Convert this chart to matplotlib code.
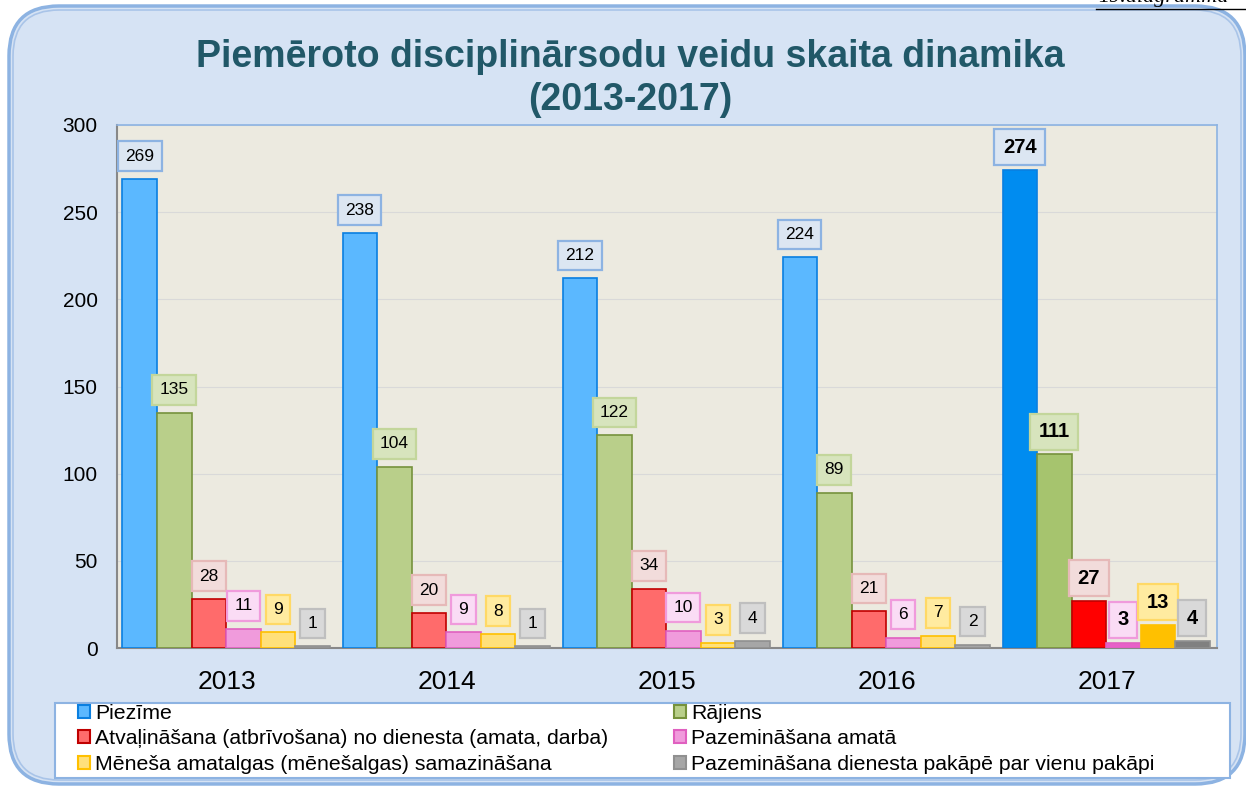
import matplotlib
matplotlib.use("Agg")
import matplotlib.pyplot as plt
from matplotlib.patches import FancyBboxPatch, Patch, Rectangle
from matplotlib.lines import Line2D
import numpy as np

plt.rcParams['font.family'] = ['Liberation Sans', 'DejaVu Sans']

years = ["2013", "2014", "2015", "2016", "2017"]
series_names = [
    "Piezīme",
    "Rājiens",
    "Atvaļināšana (atbrīvošana) no dienesta (amata, darba)",
    "Pazemināšana amatā",
    "Mēneša amatalgas (mēnešalgas) samazināšana",
    "Pazemināšana dienesta pakāpē par vienu pakāpi",
]
piezime = [269, 238, 212, 224, 274]
rajiens = [135, 104, 122, 89, 111]
atvalinasana = [28, 20, 34, 21, 27]
pazeminasana_amata = [11, 9, 10, 6, 3]
amatalgas = [9, 8, 3, 7, 13]
pazeminasana_pakape = [1, 1, 4, 2, 4]
series = [piezime, rajiens, atvalinasana, pazeminasana_amata, amatalgas, pazeminasana_pakape]

fills = ["#5BB8FF", "#B9CF8A", "#FF6B6B", "#F09BDC", "#FFE07A", "#A6A6A6"]
fills_last = ["#008CF0", "#A6C46E", "#FF0000", "#E860C8", "#FFC000", "#808080"]
edges = ["#0A7FE0", "#76923C", "#C00000", "#E060C0", "#FFC000", "#909090"]
lab_fc = ["#DCE6F2", "#D7E4BD", "#F2DCDB", "#FADCF5", "#FFEBA0", "#D9D9D9"]
lab_ec = ["#8DB3E2", "#C3D69B", "#E6B9B8", "#F09BDC", "#FFD966", "#BFBFBF"]

W, H = 1246, 794
fig = plt.figure(figsize=(W / 100, H / 100), dpi=100)
fig.patch.set_facecolor("white")

# outer rounded frame
frame = FancyBboxPatch((9 / W, 10 / H), (1236 / W), (778 / H),
                       boxstyle="round,pad=0,rounding_size=0.04",
                       transform=fig.transFigure, facecolor="#D6E3F4",
                       edgecolor="#8DB3E2", lw=2.5, mutation_aspect=W / H, zorder=-10)
fig.patches.append(frame)
frame2 = FancyBboxPatch((13 / W, 14 / H), (1228 / W), (770 / H),
                        boxstyle="round,pad=0,rounding_size=0.037",
                        transform=fig.transFigure, facecolor="none",
                        edgecolor="#A9C4E8", lw=1.2, mutation_aspect=W / H, zorder=-9)
fig.patches.append(frame2)

# top right caption (clipped in the source as well)
fig.text(1098 / W, 1 - 7 / H, "19.diagramma", fontsize=16, style="italic",
         family="Liberation Serif", ha="left", va="bottom", color="black")
fig.add_artist(Line2D([1096 / W, 1.0], [1 - 9 / H, 1 - 9 / H], transform=fig.transFigure,
                      color="black", lw=1))

ax = fig.add_axes([117 / W, 1 - 648 / H, 1100 / W, 523 / H])
ax.set_facecolor("#ECEAE0")

x = np.arange(len(years))
bw = 0.157
for i, vals in enumerate(series):
    offs = (i - 2.5) * bw - 0.004
    fc = [fills[i]] * 4 + [fills_last[i]]
    ax.bar(x + offs, vals, width=bw, color=fc, edgecolor=edges[i], lw=1.2, zorder=3)
    for j, v in enumerate(vals):
        last = j == len(vals) - 1
        ax.annotate(str(v), (x[j] + offs, v), xytext=(0, 16.5), textcoords="offset points",
                    ha="center", va="center", fontsize=14.5 if last else 12.5,
                    fontweight="bold" if last else "normal", color="black", zorder=5,
                    bbox=dict(boxstyle="square,pad=0.42", fc=lab_fc[i], ec=lab_ec[i], lw=1.6))

ax.set_xlim(-0.5, 4.5)
ax.set_ylim(0, 300)
ax.set_yticks(range(0, 301, 50))
ax.grid(axis="y", color="#D9D9D9", lw=0.8, zorder=0)
ax.set_xticks(x)
ax.set_xticklabels(years, fontsize=19)
ax.tick_params(axis="x", length=0, pad=16)
ax.tick_params(axis="y", length=0, pad=14, labelsize=15)
for s in ["top", "right"]:
    ax.spines[s].set_color("#8DB3E2")
    ax.spines[s].set_linewidth(1.2)
for s in ["left", "bottom"]:
    ax.spines[s].set_color("#888888")
    ax.spines[s].set_linewidth(1.5)

fig.text(630 / W, 1 - 57 / H, "Piemēroto disciplinārsodu veidu skaita dinamika",
         ha="center", va="center", fontsize=27, fontweight="bold", color="#215868")
fig.text(630 / W, 1 - 100 / H, "(2013-2017)",
         ha="center", va="center", fontsize=27, fontweight="bold", color="#215868")

# legend frame
fig.add_artist(Rectangle((55 / W, 1 - 778 / H), 1175 / W, 75 / H, transform=fig.transFigure,
                         facecolor="white", edgecolor="#8DB3E2", lw=1.5, zorder=1))
handles = [Patch(facecolor=fills[i], edgecolor=edges[i], lw=1.5) for i in range(6)]
order = [0, 2, 4, 1, 3, 5]
leg = fig.legend([handles[k] for k in order], [series_names[k] for k in order],
                 ncol=2, loc="upper left", bbox_to_anchor=(78 / W, 1 - 704 / H),
                 fontsize=15.3, frameon=False,
                 handlelength=0.55, handleheight=0.55, handletextpad=0.25,
                 labelspacing=0.3, borderpad=0.0, borderaxespad=0,
                 columnspacing=3.1)
leg.set_zorder(2)

fig.savefig("out.png", dpi=100, facecolor=fig.get_facecolor())
